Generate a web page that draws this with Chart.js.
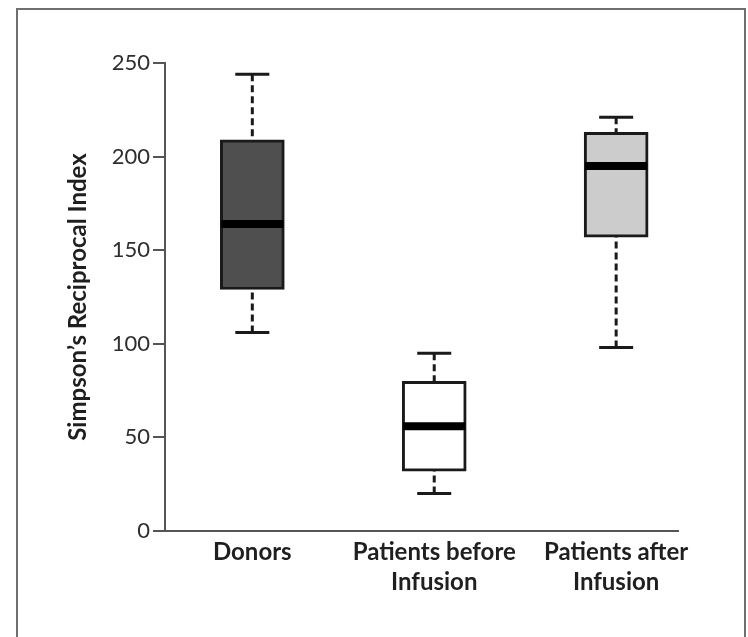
<!DOCTYPE html>
<html>
<head>
<meta charset="utf-8">
<script src="https://cdn.jsdelivr.net/npm/chart.js@4"></script>
<style>
  body { margin: 0; background: #fff; }
  #frame { position: absolute; left: 16px; top: 8px; width: 726px; height: 700px; border: 2px solid #6f6f6f; border-bottom: none; }
  #chart { position: absolute; left: 0; top: 0; }
</style>
</head>
<body>
<div id="frame"></div>
<canvas id="chart" width="748" height="637"></canvas>
<script>
// box plot values
const categories = ['Donors', ['Patients before', 'Infusion'], ['Patients after', 'Infusion']];
const whiskerLow = [106, 20, 98];
const q1 = [129, 32, 157];
const median = [164, 56, 195];
const q3 = [209, 80, 213];
const whiskerHigh = [244, 95, 221];
const yTicks = [0, 50, 100, 150, 200, 250];

const boxFill = ['#4f4f4f', '#ffffff', '#cccccc'];
const ink = '#1a1a1a';

// whiskers + caps go under the boxes, medians on top
const boxPlotMarks = {
  id: 'boxPlotMarks',
  beforeDatasetsDraw(chart) {
    const { ctx, scales: { x, y } } = chart;
    ctx.save();
    ctx.strokeStyle = ink;
    ctx.lineWidth = 3;
    categories.forEach((c, i) => {
      const cx = x.getPixelForValue(i + 1);
      ctx.setLineDash([7, 4]);
      ctx.beginPath();
      ctx.moveTo(cx, y.getPixelForValue(whiskerHigh[i]));
      ctx.lineTo(cx, y.getPixelForValue(q3[i]));
      ctx.moveTo(cx, y.getPixelForValue(whiskerLow[i]));
      ctx.lineTo(cx, y.getPixelForValue(q1[i]));
      ctx.stroke();
      ctx.setLineDash([]);
      ctx.beginPath();
      [whiskerHigh[i], whiskerLow[i]].forEach(v => {
        const py = y.getPixelForValue(v);
        ctx.moveTo(cx - 17, py);
        ctx.lineTo(cx + 17, py);
      });
      ctx.stroke();
    });
    ctx.restore();
  },
  afterDatasetsDraw(chart) {
    const { ctx, scales: { x, y } } = chart;
    ctx.save();
    ctx.strokeStyle = '#000';
    ctx.lineWidth = 8;
    categories.forEach((c, i) => {
      const cx = x.getPixelForValue(i + 1);
      const py = y.getPixelForValue(median[i]);
      ctx.beginPath();
      ctx.moveTo(cx - 31, py);
      ctx.lineTo(cx + 31, py);
      ctx.stroke();
    });
    ctx.restore();
  }
};

new Chart(document.getElementById('chart'), {
  type: 'bar',
  data: {
    datasets: [{
      data: categories.map((c, i) => ({ x: i + 1, y: [q1[i], q3[i]] })),
      backgroundColor: boxFill,
      borderColor: ink,
      borderWidth: 3,
      borderSkipped: false,
      barThickness: 64
    }]
  },
  options: {
    responsive: false,
    animation: false,
    layout: { padding: { left: 64, top: 63, right: 70, bottom: 0 } },
    plugins: { legend: { display: false }, tooltip: { enabled: false } },
    scales: {
      x: {
        type: 'linear',
        offset: false,
        min: 0.52,
        max: 3.34,
        afterBuildTicks: s => { s.ticks = categories.map((c, i) => ({ value: i + 1 })); },
        afterFit: s => { s.height = 106; },
        ticks: {
          callback: (v, i) => categories[i],
          font: { family: 'Lato', size: 24, weight: 'bold', lineHeight: 1.25 },
          color: '#1f1f1f',
          padding: 6,
          maxRotation: 0,
          autoSkip: false
        },
        grid: { drawOnChartArea: false, drawTicks: false },
        border: { color: '#555', width: 2 }
      },
      y: {
        min: 0,
        max: 250,
        afterBuildTicks: s => { s.ticks = yTicks.map(v => ({ value: v })); },
        afterFit: s => { s.width = 101; },
        ticks: { font: { family: 'Lato', size: 22 }, color: '#2e2e2e', padding: 3 },
        grid: { drawOnChartArea: false, tickLength: 12, color: '#555', lineWidth: 2 },
        border: { color: '#555', width: 2 },
        title: {
          display: true,
          text: 'Simpson’s Reciprocal Index',
          font: { family: 'Lato', size: 24, weight: 'bold' },
          color: '#1f1f1f',
          padding: { top: 0, bottom: 0 }
        }
      }
    }
  },
  plugins: [boxPlotMarks]
});
</script>
</body>
</html>
